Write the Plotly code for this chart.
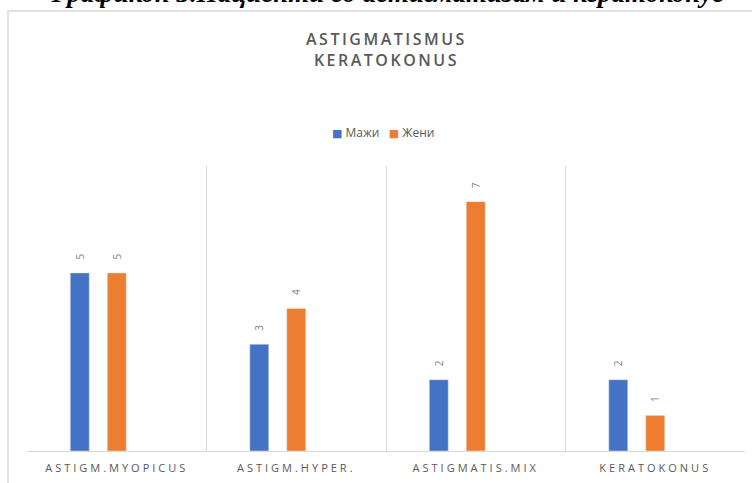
import plotly.graph_objects as go

# Chart data
categories = ["ASTIGM.MYOPICUS", "ASTIGM.HYPER.", "ASTIGMATIS.MIX", "KERATOKONUS"]
men = [5, 3, 2, 2]
women = [5, 4, 7, 1]
spare = [None, None, None, None]  # third (empty) series slot
series_names = ["Мажи", "Жени"]
header_text = "Графикон 3.Пациенти со астигматизам и кератоконус"
chart_title = ["ASTIGMATISMUS", "KERATOKONUS"]

W, H = 752, 483
BLUE = "#4472C4"
ORANGE = "#ED7D31"
GREY_TXT = "#595959"
LABEL_GREY = "#7F7F7F"
GRID = "#D9D9D9"
FONT = "Open Sans"


def spaced(s, px):
    return f'<span style="letter-spacing:{px}px">{s}</span>'


def px_x(px):
    return px / W


def px_y(py):
    return 1 - py / H


fig = go.Figure()

label_font = dict(family=FONT, size=10, color=LABEL_GREY)
colors = [BLUE, ORANGE]
for name, vals, color in [(series_names[0], men, BLUE), (series_names[1], women, ORANGE)]:
    fig.add_trace(go.Bar(
        x=categories, y=vals, name=name, marker_color=color,
        # leading spaces lift the rotated value label clear of the bar top
        texttemplate="\u00a0\u00a0\u00a0\u00a0%{y}", textposition="outside", textangle=-90,
        textfont=label_font, cliponaxis=False, showlegend=False,
        xaxis="x", yaxis="y",
    ))
fig.add_trace(go.Bar(x=categories, y=spare, showlegend=False, hoverinfo="skip",
                     xaxis="x", yaxis="y"))

# Header line above the chart box (clipped to the strip above the box)
fig.add_trace(go.Scatter(
    x=[0.516], y=[474], mode="text", text=[f"<b><i>{header_text}</i></b>"],
    textposition="top center",
    textfont=dict(family="Liberation Serif", size=27, color="black"),
    showlegend=False, hoverinfo="skip", cliponaxis=True,
    xaxis="x2", yaxis="y2",
))

legend_text = "\u00a0\u00a0\u00a0".join(
    f'<span style="color:{c};font-family:DejaVu Sans;font-size:11px">■</span>\u00a0{n}'
    for c, n in zip(colors, series_names)
)

fig.update_layout(
    width=W, height=H,
    margin=dict(l=0, r=0, t=0, b=0),
    paper_bgcolor="white", plot_bgcolor="white",
    barmode="group", bargap=0.382, bargroupgap=0.486,
    font=dict(family=FONT, color=GREY_TXT),
    showlegend=False,
    xaxis=dict(
        domain=[px_x(27), px_x(745)], anchor="y",
        type="category",
        tickmode="array", tickvals=categories,
        ticktext=[spaced(c, 3.0) for c in categories],
        tickson="boundaries", ticks="", showgrid=True, gridcolor=GRID, gridwidth=1,
        showline=True, linecolor=GRID, linewidth=1,
        tickfont=dict(family=FONT, size=11, color=GREY_TXT),
        ticklabelstandoff=7,
        fixedrange=True,
    ),
    yaxis=dict(
        domain=[px_y(451), px_y(166)], anchor="x",
        range=[0, 8], showgrid=False, showticklabels=False,
        zeroline=False, showline=False, ticks="",
    ),
    xaxis2=dict(domain=[0, 1], range=[0, 1], anchor="y2", visible=False),
    yaxis2=dict(domain=[px_y(11), 1], range=[483 - 11, 483], anchor="x2", visible=False),
    shapes=[
        dict(type="rect", xref="paper", yref="paper",
             x0=px_x(8), x1=px_x(780), y0=px_y(520), y1=px_y(11),
             line=dict(color=GRID, width=1.5), fillcolor="rgba(0,0,0,0)", layer="below"),
    ],
    annotations=[
        dict(xref="paper", yref="paper", x=px_x(386), y=px_y(49),
             xanchor="center", yanchor="middle", showarrow=False,
             text="<br>".join(spaced(t, 2.5) for t in chart_title),
             font=dict(family=FONT, size=16, color=GREY_TXT, weight=600)),
        dict(xref="paper", yref="paper", x=px_x(383), y=px_y(132),
             xanchor="center", yanchor="middle", showarrow=False,
             text=legend_text,
             font=dict(family=FONT, size=12, color=GREY_TXT)),
    ],
)

fig.write_html("out.html")
